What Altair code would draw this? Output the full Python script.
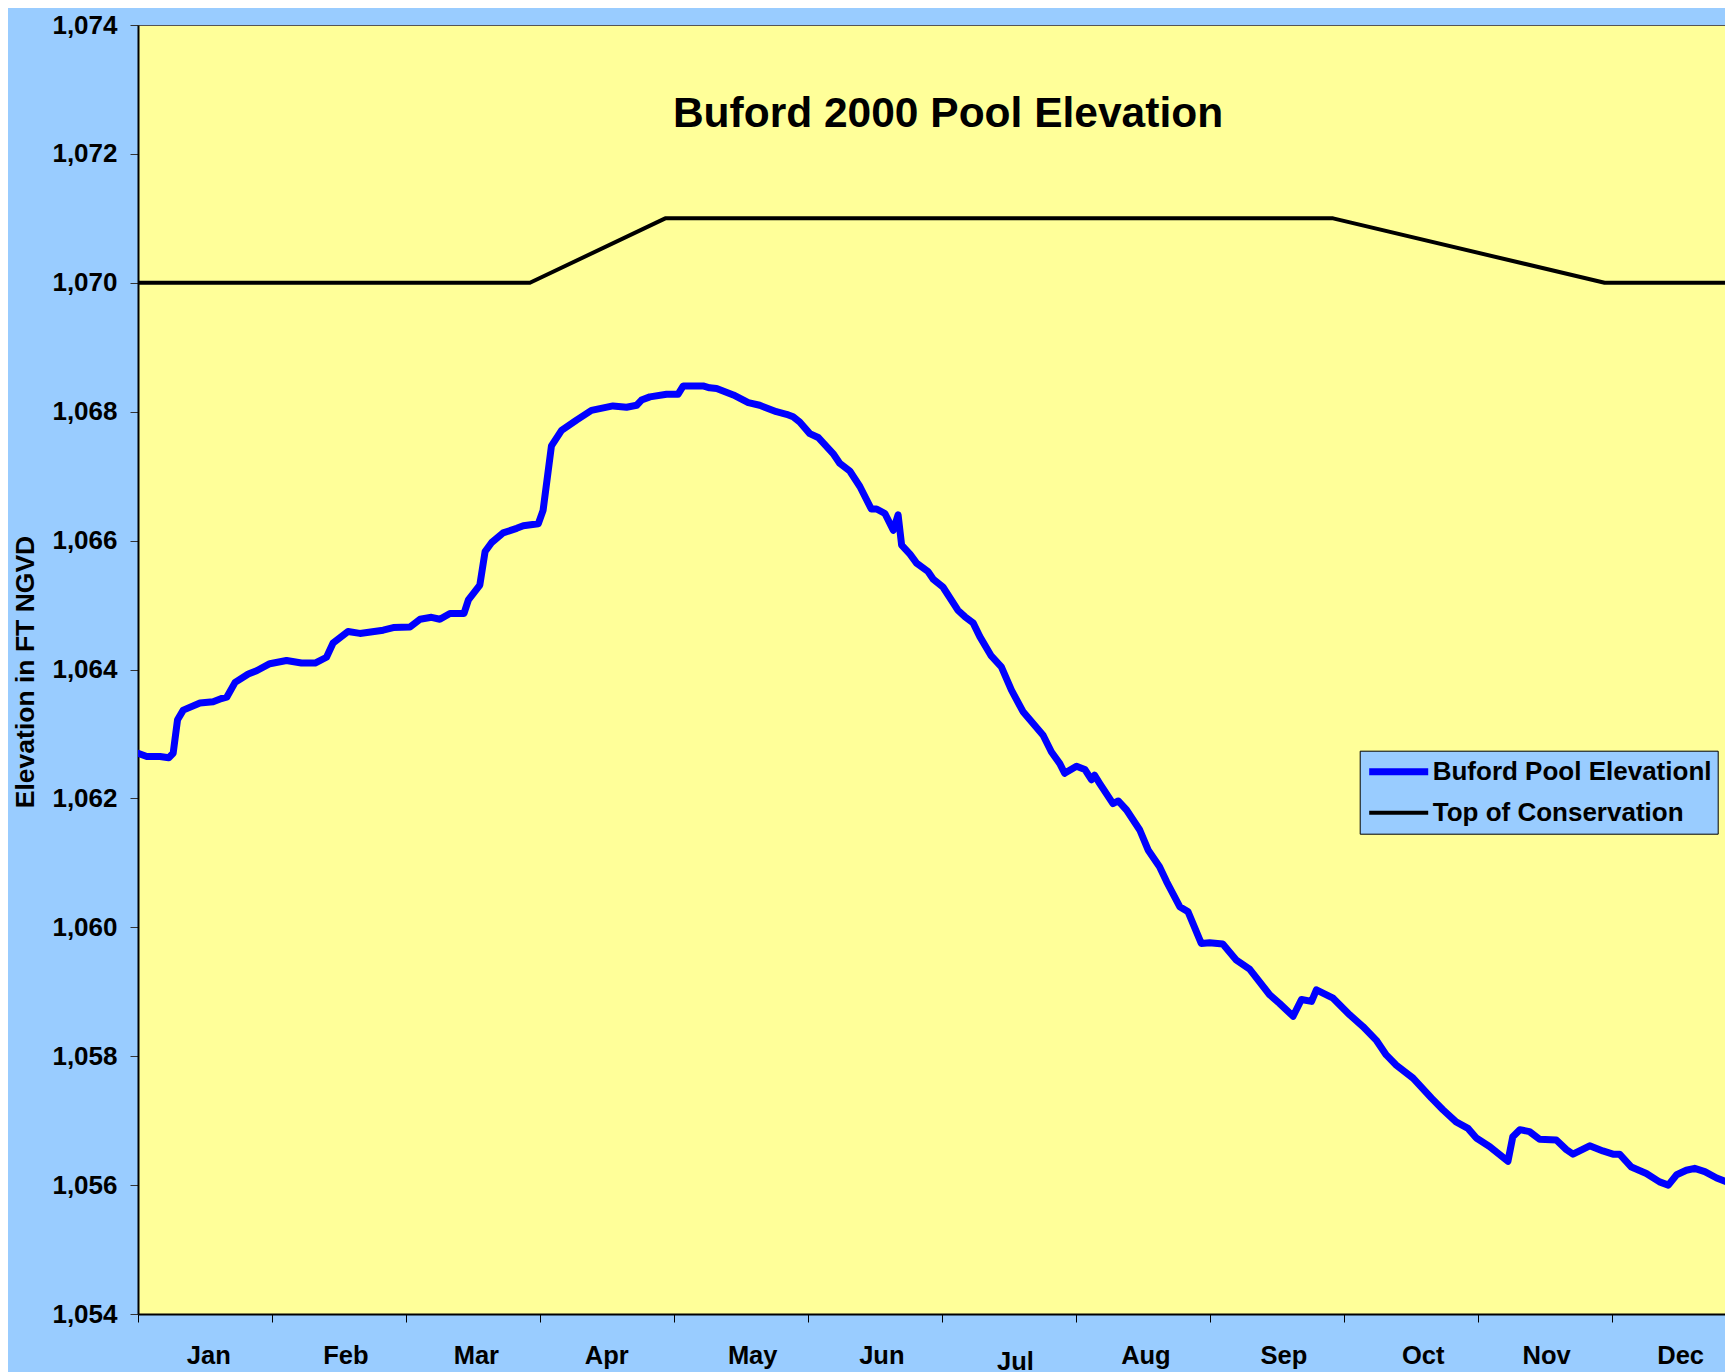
import altair as alt
import pandas as pd

# ---- data ----
pool_days = [0, 2, 5, 7, 8, 9, 10.3, 14.1, 17.1, 19.0, 20.2, 22.1, 25.1, 27.0, 30.0, 33.8,
             37.2, 40.3, 42.9, 44.4, 47.8, 50.5, 55.8, 58.1, 61.9, 64.2, 66.8, 68.7, 71.0,
             74.2, 75.2, 77.8, 79.0, 80.5, 83.1, 86.2, 87.7, 91.1, 92.2, 94.1, 96.4, 99.8,
             103.2, 108.1, 111.2, 113.5, 114.6, 116.5, 120.3, 122.9, 124.1, 128.6, 130.1,
             131.7, 135.5, 138.9, 141.5, 145.3, 147.6, 149.1, 150.6, 152.9, 154.8, 158.2,
             159.7, 162.0, 164.3, 166.9, 168.1, 170.0, 171.9, 173.0, 173.8, 175.7, 177.2,
             179.8, 181.0, 183.2, 186.6, 188.2, 190.1, 191.6, 194.2, 196.5, 198.8, 201.4,
             203.0, 206.0, 207.9, 209.8, 210.9, 213.6, 215.5, 217.0, 217.7, 218.9, 221.9,
             223.1, 225.0, 228.0, 229.9, 232.5, 234.1, 237.1, 239.0, 242.0, 243.9, 246.9,
             250.0, 253.0, 257.6, 259.8, 262.9, 264.8, 267.1, 268.2, 272.0, 275.8, 278.8,
             281.8, 284.1, 286.4, 290.2, 294.4, 297.0, 300.0, 302.7, 304.6, 307.6, 311.8,
             312.9, 314.5, 316.7, 319.0, 322.8, 325.1, 326.6, 330.4, 333.4, 335.7, 337.2,
             339.9, 343.3, 346.3, 348.3, 350.2, 352.4, 354.3, 356.6, 359.3, 362.3]
pool_elev = [1062.70, 1062.65, 1062.65, 1062.63, 1062.70, 1063.22, 1063.37, 1063.48,
             1063.50, 1063.55, 1063.57, 1063.80, 1063.93, 1063.98, 1064.09, 1064.14,
             1064.10, 1064.10, 1064.19, 1064.41, 1064.59, 1064.56, 1064.61, 1064.65,
             1064.66, 1064.78, 1064.81, 1064.78, 1064.87, 1064.87, 1065.08, 1065.31,
             1065.83, 1065.97, 1066.12, 1066.19, 1066.23, 1066.26, 1066.47, 1067.47,
             1067.71, 1067.87, 1068.02, 1068.09, 1068.07, 1068.10, 1068.18, 1068.23,
             1068.27, 1068.27, 1068.40, 1068.40, 1068.37, 1068.36, 1068.26, 1068.14,
             1068.10, 1068.00, 1067.96, 1067.92, 1067.84, 1067.66, 1067.60, 1067.35,
             1067.20, 1067.08, 1066.84, 1066.49, 1066.49, 1066.42, 1066.16, 1066.40,
             1065.93, 1065.79, 1065.65, 1065.52, 1065.40, 1065.28, 1064.92, 1064.82,
             1064.72, 1064.51, 1064.21, 1064.04, 1063.68, 1063.35, 1063.22, 1062.98,
             1062.72, 1062.54, 1062.39, 1062.50, 1062.45, 1062.29, 1062.36, 1062.23,
             1061.92, 1061.96, 1061.82, 1061.51, 1061.20, 1060.94, 1060.71, 1060.32,
             1060.24, 1059.75, 1059.76, 1059.74, 1059.49, 1059.35, 1058.95, 1058.82,
             1058.62, 1058.88, 1058.85, 1059.03, 1058.90, 1058.64, 1058.46, 1058.25,
             1058.02, 1057.86, 1057.66, 1057.35, 1057.17, 1056.98, 1056.88, 1056.73,
             1056.60, 1056.37, 1056.75, 1056.86, 1056.83, 1056.71, 1056.70, 1056.55,
             1056.48, 1056.61, 1056.53, 1056.48, 1056.48, 1056.28, 1056.18, 1056.05,
             1056.00, 1056.16, 1056.23, 1056.26, 1056.21, 1056.11, 1056.03]

cons_days = [0, 89.2, 120.0, 272.0, 333.8, 366]
cons_elev = [1070, 1070, 1071, 1071, 1070, 1070]

series_names = ["Buford Pool Elevationl", "Top of Conservation"]
series_colors = ["#0000FF", "#000000"]
series_widths = [7, 4]

month_names = ["Jan", "Feb", "Mar", "Apr", "May", "Jun", "Jul", "Aug", "Sep", "Oct", "Nov", "Dec"]
month_label_days = [16.1, 47.3, 77.0, 106.7, 139.9, 169.3, 199.7, 229.4, 260.8, 292.5, 320.6, 351.1]
month_tick_days = [0, 30.5, 61, 91.5, 122, 152.5, 183, 213.5, 244, 274.5, 305, 335.5]
y_ticks = [1054, 1056, 1058, 1060, 1062, 1064, 1066, 1068, 1070, 1072, 1074]

FONT = "Liberation Sans"

df = pd.DataFrame({
    "day": pool_days + cons_days,
    "elev": pool_elev + cons_elev,
    "series": [series_names[0]] * len(pool_days) + [series_names[1]] * len(cons_days),
})
months_df = pd.DataFrame({"month": month_names, "day": month_label_days})

x_scale = alt.Scale(domain=[0, 361.2], nice=False, zero=False)
y_scale = alt.Scale(domain=[1054, 1074], nice=False, zero=False)

legend = alt.Legend(
    title=None, orient="none", legendX=1221.7, legendY=725.7,
    fillColor="#99CCFF", strokeColor="black", padding=6,
    labelFont=FONT, labelFontSize=26, labelFontWeight="bold", labelColor="black",
    labelLimit=0, clipHeight=30,
    symbolType="stroke", symbolSize=3481, labelOffset=1, rowPadding=11,
)

lines = alt.Chart(df).mark_line(clip=True, strokeCap="round", strokeJoin="round").encode(
    x=alt.X("day:Q", scale=x_scale,
            axis=alt.Axis(values=month_tick_days, labels=False, title=None, grid=False,
                          tickSize=8, tickColor="black", tickWidth=1,
                          domainColor="black", domainWidth=2)),
    y=alt.Y("elev:Q", scale=y_scale,
            axis=alt.Axis(values=y_ticks, format=",d", grid=False,
                          title="Elevation in FT NGVD", titleFont=FONT, titleFontSize=26.5,
                          titleFontWeight="bold", titleColor="black", titleAngle=270,
                          titleAlign="center", titleBaseline="middle",
                          titleX=-113, titleY=646.5,
                          labelFont=FONT, labelFontSize=26, labelFontWeight="bold",
                          labelColor="black", labelPadding=13, tickSize=8,
                          tickColor="#333333", domainColor="black", domainWidth=2)),
    color=alt.Color("series:N", sort=series_names,
                    scale=alt.Scale(domain=series_names, range=series_colors), legend=legend),
    strokeWidth=alt.StrokeWidth("series:N", sort=series_names,
                                scale=alt.Scale(domain=series_names, range=series_widths),
                                legend=legend),
)

month_text = alt.Chart(months_df).transform_filter("datum.month != 'Jul'").mark_text(
    font=FONT, fontSize=25.5, fontWeight="bold", color="black", align="center",
    baseline="alphabetic"
).encode(x=alt.X("day:Q", scale=x_scale), y=alt.value(1339), text="month:N")

jul_text = alt.Chart(months_df).transform_filter("datum.month == 'Jul'").mark_text(
    font=FONT, fontSize=25.5, fontWeight="bold", color="black", align="center",
    baseline="alphabetic"
).encode(x=alt.X("day:Q", scale=x_scale), y=alt.value(1345), text="month:N")

title_text = alt.Chart(pd.DataFrame({"t": ["Buford 2000 Pool Elevation"]})).mark_text(
    font=FONT, fontSize=42.5, fontWeight="bold", color="black", align="center",
    baseline="alphabetic"
).encode(x=alt.value(810), y=alt.value(102), text="t:N")

chart = alt.layer(lines, month_text, jul_text, title_text).properties(
    width=1587, height=1289,
    padding={"left": 130, "top": 17, "right": 0, "bottom": 62},
    autosize=alt.AutoSizeParams(type="none"),
    background="#99CCFF",
).configure_view(fill="#FFFF99", stroke="#555555", strokeWidth=1)

chart.save("out.html", embed_options={"renderer": "svg", "actions": False})
